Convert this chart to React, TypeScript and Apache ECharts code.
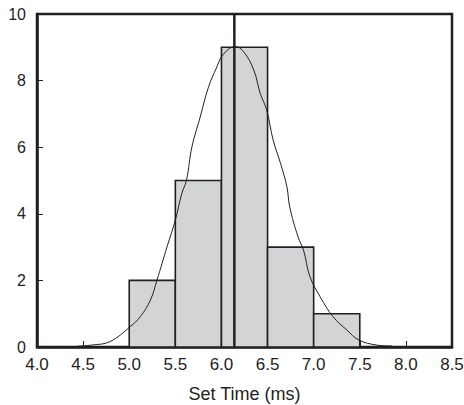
import React, { useEffect, useRef } from "react";
import * as echarts from "echarts";

const binStarts = [5.0, 5.5, 6.0, 6.5, 7.0];
const binEnds = [5.5, 6.0, 6.5, 7.0, 7.5];
const binCounts = [2, 5, 9, 3, 1];

const meanLineX = 6.14;

const curveX = [4.43, 4.6, 4.79, 5.01, 5.12, 5.23, 5.3, 5.41, 5.5, 5.57, 5.62, 5.68, 5.77, 5.86, 5.95, 6.0, 6.09, 6.15, 6.24, 6.35, 6.42, 6.49, 6.56, 6.64, 6.71, 6.74, 6.83, 6.89, 6.96, 7.07, 7.21, 7.36, 7.49, 7.68, 7.85];
const curveY = [0.02, 0.06, 0.16, 0.61, 0.91, 1.41, 2.0, 3.01, 3.81, 4.61, 5.0, 6.01, 6.91, 7.81, 8.41, 8.71, 8.97, 9.02, 8.87, 8.32, 7.62, 7.12, 6.22, 5.52, 4.81, 4.21, 3.31, 2.91, 2.11, 1.51, 0.91, 0.51, 0.21, 0.06, 0.03];

const xTickMin = 4.0;
const xTickMax = 8.5;
const xTickStep = 0.5;
const yTickMin = 0;
const yTickMax = 10;
const yTickStep = 2;

const xAxisName = "Set Time (ms)";

export default function App() {
  const ref = useRef<HTMLDivElement>(null);
  useEffect(() => {
    if (!ref.current) return;
    const chart = echarts.init(ref.current, undefined, { renderer: "svg" });
    const ink = "#231f20";
    const font = "'Liberation Sans', Arial, Helvetica, sans-serif";
    const histData = binStarts.map((s, i) => [s, binEnds[i], binCounts[i]]);
    chart.setOption({
      animation: false,
      backgroundColor: "#ffffff",
      grid: {
        left: 37,
        right: 12,
        top: 14,
        bottom: 58,
        containLabel: false,
        outerBoundsMode: "none",
        show: true,
        borderColor: ink,
        borderWidth: 2.5,
        backgroundColor: "transparent",
      },
      xAxis: {
        type: "value",
        min: xTickMin,
        max: xTickMax,
        interval: xTickStep,
        name: xAxisName,
        nameLocation: "middle",
        nameGap: 38,
        nameTextStyle: { color: ink, fontSize: 18, fontFamily: font },
        axisLine: { show: true, lineStyle: { color: ink, width: 2.5 } },
        axisTick: { show: true, inside: true, length: 6, lineStyle: { color: ink, width: 1 } },
        axisLabel: {
          color: ink,
          fontSize: 17,
          fontFamily: font,
          margin: 9,
          formatter: (v: number) => v.toFixed(1),
        },
        splitLine: { show: false },
      },
      yAxis: {
        type: "value",
        min: yTickMin,
        max: yTickMax,
        interval: yTickStep,
        axisLine: { show: true, lineStyle: { color: ink, width: 2.5 } },
        axisTick: { show: true, inside: true, length: 6, lineStyle: { color: ink, width: 1 } },
        axisLabel: { color: ink, fontSize: 16, fontFamily: font, margin: 11 },
        splitLine: { show: false },
      },
      series: [
        {
          type: "custom",
          data: histData,
          encode: { x: [0, 1], y: 2 },
          renderItem: (params: any, api: any) => {
            const p0 = api.coord([api.value(0), api.value(2)]);
            const p1 = api.coord([api.value(1), 0]);
            return {
              type: "rect",
              shape: { x: p0[0], y: p0[1], width: p1[0] - p0[0], height: p1[1] - p0[1] },
              style: { fill: "#d3d4d6", stroke: ink, lineWidth: 1.6 },
            };
          },
          z: 2,
        },
        {
          type: "line",
          data: [
            [meanLineX, yTickMin],
            [meanLineX, yTickMax],
          ],
          symbol: "none",
          lineStyle: { color: ink, width: 2.5 },
          z: 3,
        },
        {
          type: "line",
          data: curveX.map((x, i) => [x, curveY[i]]),
          smooth: 0.4,
          symbol: "none",
          lineStyle: { color: ink, width: 1 },
          z: 4,
        },
      ],
    });
    return () => chart.dispose();
  }, []);
  return (
    <div
      ref={ref}
      style={{ position: "fixed", left: 0, top: 0, width: 464, height: 405 }}
    />
  );
}
